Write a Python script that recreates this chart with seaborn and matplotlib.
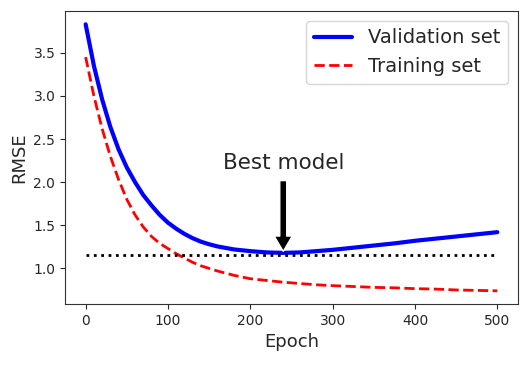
import numpy as np
import pandas as pd
import matplotlib
matplotlib.use("Agg")
import matplotlib.pyplot as plt
import seaborn as sns

# values
epochs = [0, 10, 20, 30, 40, 50, 60, 70, 80, 90, 100, 110, 120, 130, 140, 150, 160,
          180, 200, 220, 240, 260, 280, 300,
          325, 350, 375, 400, 425, 450, 475, 500]
val_rmse = [3.83, 3.35, 2.96, 2.64, 2.38, 2.17, 2.00, 1.85, 1.73, 1.62, 1.53,
            1.46, 1.40, 1.35, 1.31, 1.28, 1.255,
            1.22, 1.20, 1.185, 1.18, 1.185, 1.20, 1.215,
            1.24, 1.265, 1.29, 1.32, 1.345, 1.37, 1.395, 1.42]
train_rmse = [3.45, 3.00, 2.62, 2.30, 2.03, 1.80, 1.62, 1.48, 1.37, 1.29, 1.23,
              1.17, 1.12, 1.07, 1.03, 1.00, 0.97,
              0.92, 0.88, 0.86, 0.84, 0.825, 0.81, 0.80,
              0.79, 0.78, 0.775, 0.765, 0.76, 0.75, 0.745, 0.74]
best_epoch = 240
best_val_rmse = 1.15

df = pd.DataFrame({"Epoch": epochs, "val": val_rmse, "train": train_rmse})

sns.set_style("ticks")
plt.rcParams["font.family"] = ["DejaVu Sans"]

fig, ax = plt.subplots(figsize=(5.29, 3.66), dpi=100)
fig.subplots_adjust(left=0.123, right=0.979, bottom=0.169, top=0.970)

sns.lineplot(data=df, x="Epoch", y="val", color="blue", linewidth=3,
             label="Validation set", ax=ax)
sns.lineplot(data=df, x="Epoch", y="train", color="red", linewidth=2,
             linestyle="--", label="Training set", ax=ax)
ax.plot([0, epochs[-1]], [best_val_rmse, best_val_rmse], "k:", linewidth=2)

ax.annotate("Best model", xy=(best_epoch, best_val_rmse),
            xytext=(best_epoch, best_val_rmse + 1), ha="center", fontsize=15.5,
            arrowprops=dict(facecolor="black", shrink=0.05, width=5,
                            headwidth=13, headlength=11))

ax.legend(loc="upper right", fontsize=14)
ax.set_xlabel("Epoch", fontsize=13)
ax.set_ylabel("RMSE", fontsize=13)
ax.set_xticks([0, 100, 200, 300, 400, 500])
ax.set_yticks([1.0, 1.5, 2.0, 2.5, 3.0, 3.5])
ax.tick_params(labelsize=10)
for s in ax.spines.values():
    s.set_color("#333333")

fig.savefig("out.png", dpi=100)
